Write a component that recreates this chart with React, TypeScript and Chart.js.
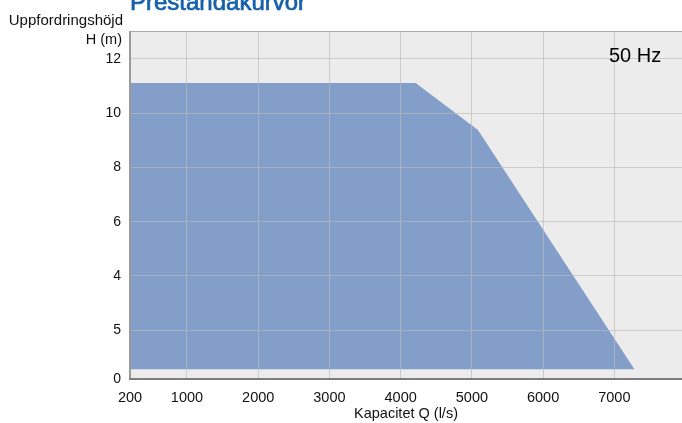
import React, { useEffect, useRef } from "react";
import { Chart, registerables } from "chart.js";

Chart.register(...registerables);

const xTickValues = [200, 1000, 2000, 3000, 4000, 5000, 6000, 7000];
const yTickValues = [0.2, 2, 4, 6, 8, 10, 12];
const yTickLabels = ["0", "5", "4", "6", "8", "10", "12"];
const envelopeQ = [200, 4210, 5085, 7282];
const envelopeH = [11.11, 11.11, 9.38, 0.56];
const envelopeBase = 0.56;

const FONT = "'Liberation Sans', Arial, Helvetica, sans-serif";

export default function App() {
  const ref = useRef<HTMLCanvasElement | null>(null);

  useEffect(() => {
    const canvas = ref.current;
    if (!canvas) return;

    const decor = {
      id: "decor",
      beforeDraw(chart: any) {
        const { ctx, chartArea: a } = chart;
        ctx.save();
        ctx.fillStyle = "#ececec";
        ctx.fillRect(a.left, a.top, a.right - a.left, a.bottom - a.top);
        ctx.restore();
      },
      afterDraw(chart: any) {
        const { ctx, chartArea: a } = chart;
        ctx.save();
        // borders
        ctx.lineWidth = 1;
        ctx.strokeStyle = "#a9a9a9";
        ctx.beginPath();
        ctx.moveTo(a.left, a.top + 0.5);
        ctx.lineTo(a.right, a.top + 0.5);
        ctx.stroke();
        ctx.strokeStyle = "#9a9a9a";
        ctx.lineWidth = 2;
        ctx.beginPath();
        ctx.moveTo(a.left, a.top);
        ctx.lineTo(a.left, a.bottom);
        ctx.stroke();
        ctx.strokeStyle = "#7d7d7d";
        ctx.beginPath();
        ctx.moveTo(a.left - 1, a.bottom);
        ctx.lineTo(a.right, a.bottom);
        ctx.stroke();

        // texts
        ctx.fillStyle = "#1660aa";
        ctx.strokeStyle = "#1660aa";
        ctx.lineWidth = 0.7;
        ctx.font = `24px ${FONT}`;
        ctx.textAlign = "left";
        ctx.textBaseline = "alphabetic";
        ctx.fillText("Prestandakurvor", 130, 10);
        ctx.strokeText("Prestandakurvor", 130, 10);

        ctx.fillStyle = "#111";
        ctx.font = `15px ${FONT}`;
        ctx.textAlign = "right";
        ctx.fillText("Uppfordringshöjd", 123, 25);
        ctx.font = `14.5px ${FONT}`;
        ctx.fillText("H (m)", 122, 43.5);

        ctx.textAlign = "center";
        ctx.fillText("Kapacitet Q (l/s)", (a.left + a.right) / 2, 418);

        ctx.font = `20px ${FONT}`;
        ctx.textAlign = "left";
        ctx.fillStyle = "#000";
        ctx.fillText("50 Hz", 609, 62);
        ctx.restore();
      },
    };

    const chart = new Chart(canvas, {
      type: "line",
      data: {
        datasets: [
          {
            data: envelopeQ.map((q, i) => ({ x: q, y: envelopeH[i] })),
            borderWidth: 0,
            borderColor: "rgba(0,0,0,0)",
            backgroundColor: "rgba(28,80,168,0.5)",
            pointRadius: 0,
            fill: { value: envelopeBase },
            tension: 0,
          },
        ],
      },
      options: {
        responsive: false,
        animation: false,
        layout: { padding: { top: 31, left: 0, right: 0, bottom: 0 } },
        plugins: {
          legend: { display: false },
          tooltip: { enabled: false },
          title: { display: false },
        },
        scales: {
          x: {
            type: "linear",
            min: 200,
            max: 7950,
            afterBuildTicks: (scale: any) => {
              scale.ticks = xTickValues.map((v) => ({ value: v }));
            },
            afterFit: (scale: any) => {
              scale.height = 44;
            },
            grid: { color: "rgba(188,188,188,0.65)", drawTicks: false, z: 1 },
            border: { display: false },
            ticks: {
              padding: 10,
              color: "#111",
              font: { family: FONT, size: 14.5 },
              autoSkip: false,
              maxRotation: 0,
              callback: (v: any) => String(v),
            },
          },
          y: {
            type: "linear",
            min: 0.2,
            max: 13.03,
            afterBuildTicks: (scale: any) => {
              scale.ticks = yTickValues.map((v) => ({ value: v }));
            },
            afterFit: (scale: any) => {
              scale.width = 130;
            },
            grid: { color: "rgba(188,188,188,0.65)", drawTicks: false, z: 1 },
            border: { display: false },
            ticks: {
              padding: 9,
              color: "#111",
              font: { family: FONT, size: 14 },
              autoSkip: false,
              callback: (v: any) => {
                const i = yTickValues.indexOf(Number(v));
                return i >= 0 ? yTickLabels[i] : "";
              },
            },
          },
        },
      },
      plugins: [decor],
    });

    return () => chart.destroy();
  }, []);

  return (
    <div style={{ position: "absolute", left: 0, top: 0, width: 682, height: 423, background: "#fff" }}>
      <canvas ref={ref} width={682} height={423} style={{ width: 682, height: 423, display: "block" }} />
    </div>
  );
}
